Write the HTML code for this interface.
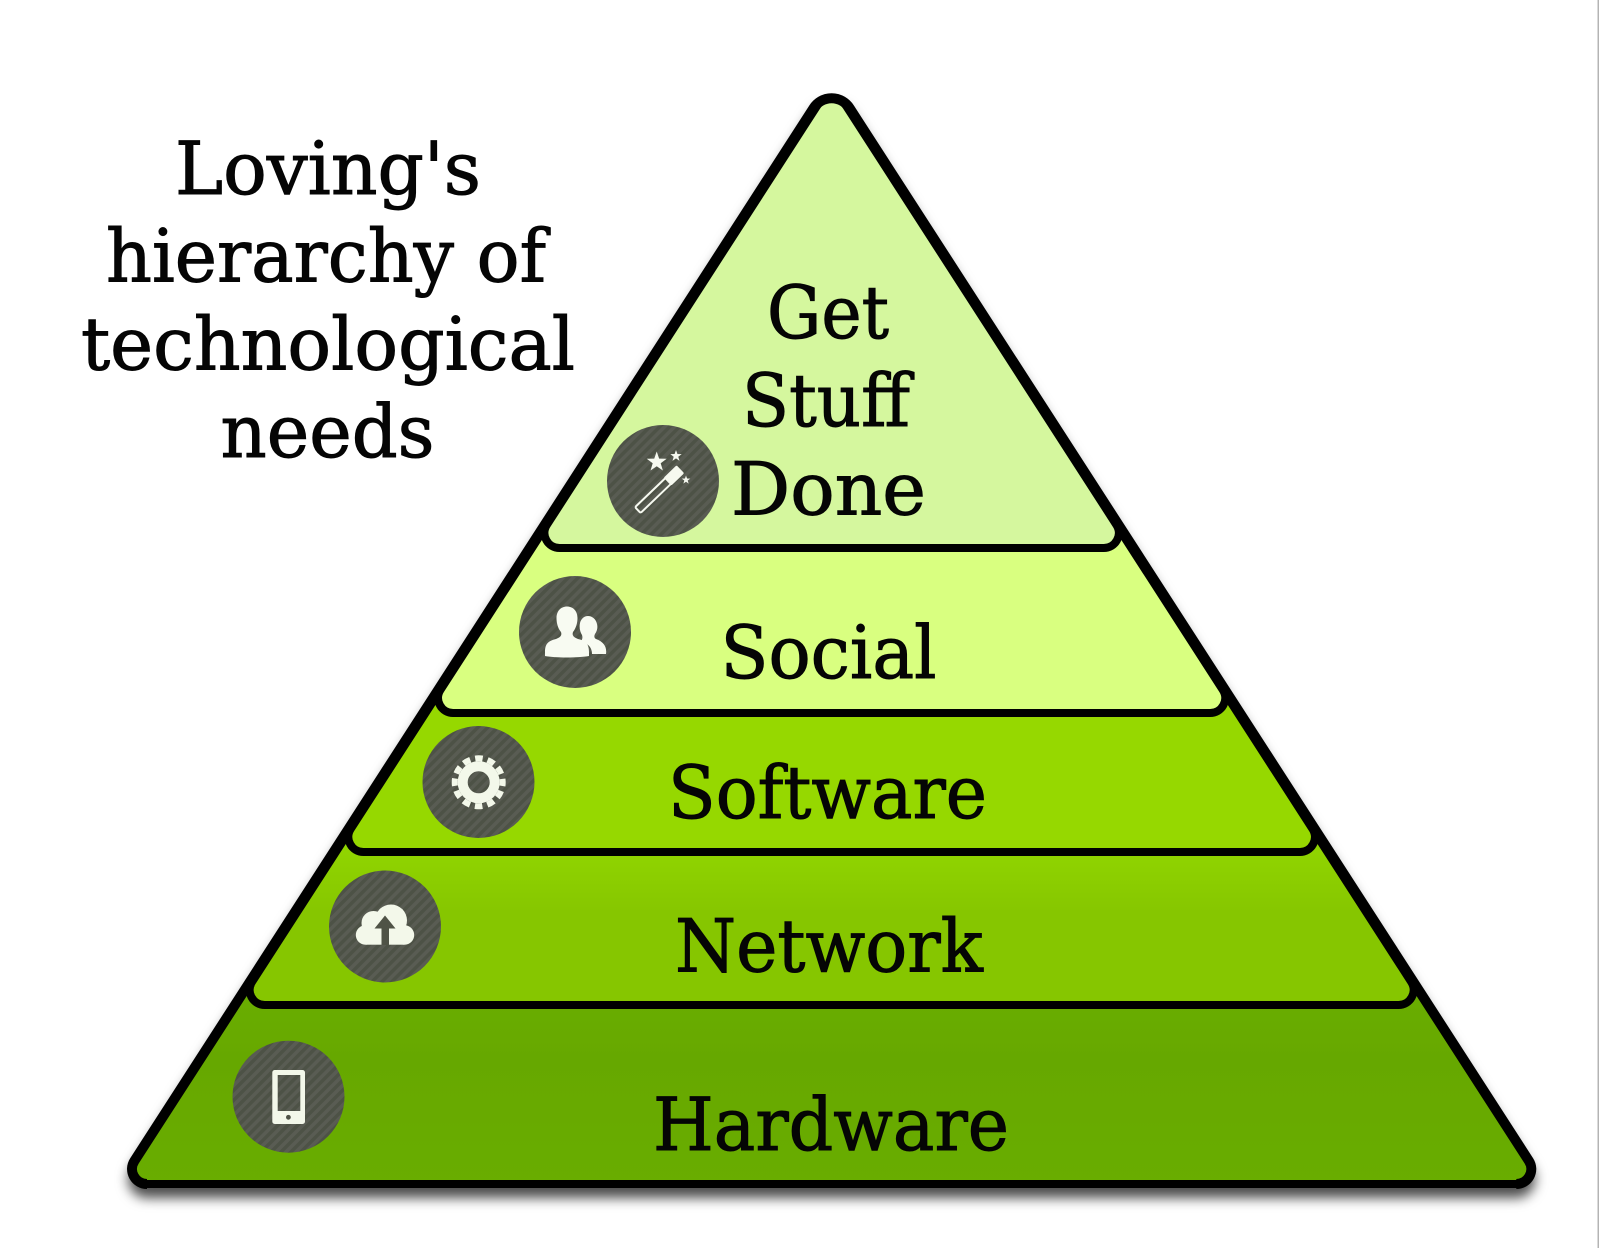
<!DOCTYPE html>
<html lang="en">
<head>
<meta charset="utf-8">
<title>Loving's hierarchy of technological needs</title>
<style>
html,body{margin:0;padding:0;background:#fff;}
svg{display:block;}
text{font-family:"DejaVu Serif","Liberation Serif",serif;fill:#050505;stroke:#050505;stroke-width:1;font-size:73px;}
.s{stroke:#000;stroke-width:8;stroke-linejoin:round;}
</style>
</head>
<body>
<svg width="1600" height="1248" viewBox="0 0 1600 1248" xmlns="http://www.w3.org/2000/svg">
<defs>
  <pattern id="st" width="7" height="7" patternUnits="userSpaceOnUse" patternTransform="rotate(45)">
    <rect width="7" height="7" fill="#4d5246"/>
    <rect width="3.5" height="7" fill="#595c53"/>
  </pattern>
  <filter id="sh" x="-5%" y="-5%" width="110%" height="112%">
    <feDropShadow dx="0" dy="10" stdDeviation="6" flood-color="#000" flood-opacity="0.7"/>
  </filter>
  <linearGradient id="gn" gradientUnits="userSpaceOnUse" x1="0" y1="852" x2="0" y2="1005">
    <stop offset="0" stop-color="#90d400"/>
    <stop offset="0.4" stop-color="#86c600"/>
    <stop offset="1" stop-color="#86c600"/>
  </linearGradient>
  <linearGradient id="gh" gradientUnits="userSpaceOnUse" x1="0" y1="1005" x2="0" y2="1184">
    <stop offset="0" stop-color="#69ad00"/>
    <stop offset="0.3" stop-color="#66a800"/>
    <stop offset="1" stop-color="#69ad00"/>
  </linearGradient>
  <polygon id="star" points="0,-1 .235,-.324 .951,-.309 .38,.124 .588,.809 0,.4 -.588,.809 -.38,.124 -.951,-.309 -.235,-.324"/>
</defs>

<rect width="1600" height="1248" fill="#fff"/>
<rect x="1597.5" y="0" width="1.5" height="1248" fill="#b4b4b4"/>

<!-- Hardware (base, with shadow) -->
<path class="s" filter="url(#sh)" fill="url(#gh)" d="M813.6,108.1 A21.4,21.4 0 0 1 849.6,108.1 L1528.9,1160.9 A15,15 0 0 1 1516.3,1184 L147,1184 A15,15 0 0 1 134.4,1160.9 Z"/>
<!-- Network -->
<path class="s" fill="url(#gn)" d="M816.8,106.3 A17.6,17.6 0 0 1 846.4,106.3 L1411.2,981.9 A15,15 0 0 1 1398.6,1005 L264.7,1005 A15,15 0 0 1 252.1,981.9 Z"/>
<!-- Software -->
<path class="s" fill="#96d800" d="M816.8,106.3 A17.6,17.6 0 0 1 846.4,106.3 L1312.5,828.9 A15,15 0 0 1 1299.9,852 L363.4,852 A15,15 0 0 1 350.8,828.9 Z"/>
<!-- Social -->
<path class="s" fill="#d9ff80" d="M816.8,106.3 A17.6,17.6 0 0 1 846.4,106.3 L1222.8,689.9 A15,15 0 0 1 1210.2,713 L453.1,713 A15,15 0 0 1 440.5,689.9 Z"/>
<!-- Get Stuff Done -->
<path class="s" fill="#d5f79e" d="M816.8,106.3 A17.6,17.6 0 0 1 846.4,106.3 L1116.4,524.9 A15,15 0 0 1 1103.8,548 L559.5,548 A15,15 0 0 1 546.9,524.9 Z"/>
<!-- Outer sides overlay -->
<path fill="none" stroke="#000" stroke-width="10" stroke-linejoin="round" d="M147,1184 A15,15 0 0 1 134.4,1160.9 L813.6,108.1 A21.4,21.4 0 0 1 849.6,108.1 L1528.9,1160.9 A15,15 0 0 1 1516.3,1184"/>

<!-- Title -->
<text x="175" y="194" textLength="306" lengthAdjust="spacingAndGlyphs">Loving's</text>
<text x="106" y="281.7" textLength="440" lengthAdjust="spacingAndGlyphs">hierarchy of</text>
<text x="81" y="369.4" textLength="494" lengthAdjust="spacingAndGlyphs">technological</text>
<text x="220.5" y="457" textLength="214" lengthAdjust="spacingAndGlyphs">needs</text>

<!-- Labels -->
<text x="767" y="338" textLength="122" lengthAdjust="spacingAndGlyphs">Get</text>
<text x="742" y="426" textLength="168" lengthAdjust="spacingAndGlyphs">Stuff</text>
<text x="731" y="514.5" textLength="195" lengthAdjust="spacingAndGlyphs">Done</text>
<text x="720.5" y="678" textLength="216" lengthAdjust="spacingAndGlyphs">Social</text>
<text x="668" y="818" textLength="319" lengthAdjust="spacingAndGlyphs">Software</text>
<text x="675" y="971.5" textLength="308" lengthAdjust="spacingAndGlyphs">Network</text>
<text x="653" y="1150" textLength="356" lengthAdjust="spacingAndGlyphs">Hardware</text>

<!-- Icon discs -->
<circle cx="663" cy="481" r="56" fill="url(#st)"/>
<circle cx="575" cy="632" r="56" fill="url(#st)"/>
<circle cx="478.5" cy="782" r="56" fill="url(#st)"/>
<circle cx="385" cy="926.5" r="56" fill="url(#st)"/>
<circle cx="288.5" cy="1096.7" r="56" fill="url(#st)"/>

<!-- Wand -->
<g transform="translate(640,508) rotate(-43.8)">
  <rect x="-3" y="-4" width="44" height="8" rx="1.5" fill="none" stroke="#f6f9f0" stroke-width="2"/>
  <rect x="38" y="-5.5" width="18" height="11" rx="1.5" fill="#f6f9f0"/>
</g>
<use href="#star" transform="translate(656.7,462) scale(10.5)" fill="#f6f9f0"/>
<use href="#star" transform="translate(676,456) scale(6)" fill="#f6f9f0"/>
<use href="#star" transform="translate(686,480) scale(4.5)" fill="#f6f9f0"/>

<!-- People -->
<g fill="#f8fbf2">
  <path d="M592,654 L606,654 C607,647 604,642 596,639 C594,638 594,636 595,634 C597,631 598,628 597,624 C596,619 592,616 588,616 C584,616 581,619 580,623 C579,627 580,632 582,635 C583,638 582,640 581,641 C589,644 592,648 592,654 Z"/>
  <path d="M545,652 C545,644 548,641 556,639 C561,637 562,635 561,632 C557.5,628 556.5,622 556.5,618 C556.5,611 561,606.5 567,606.5 C573,606.5 577.5,611 577.5,618 C577.5,623 576,628 573,632 C572,635 573,637 578,639 C586,641 589,644 589,652 L589,656 C578,658 555,658 545,656 Z"/>
</g>

<!-- Gear -->
<circle cx="478.7" cy="782.3" r="16" fill="none" stroke="#f3f8ea" stroke-width="10"/>
<circle cx="478.7" cy="782.3" r="24" fill="none" stroke="#f3f8ea" stroke-width="6" stroke-dasharray="7.5 5.07" stroke-dashoffset="3.75"/>

<!-- Cloud -->
<g fill="#f3f8ea">
  <circle cx="365.5" cy="935" r="9.7"/>
  <circle cx="373.5" cy="923" r="12"/>
  <circle cx="391" cy="920.5" r="16"/>
  <circle cx="404.5" cy="935" r="9.7"/>
  <rect x="366" y="928" width="38" height="16.7"/>
</g>
<path fill="#4f5346" d="M385,915.5 L374.5,928.5 L381.5,928.5 L381.5,945 L389,945 L389,928.5 L395.5,928.5 Z"/>

<!-- Phone -->
<rect x="272.3" y="1070" width="32.7" height="54" rx="2.5" fill="#f3f8ea"/>
<rect x="277.7" y="1075" width="22.6" height="36" fill="url(#st)"/>
<circle cx="288.4" cy="1117.3" r="2.4" fill="#4f5346"/>
</svg>
</body>
</html>
